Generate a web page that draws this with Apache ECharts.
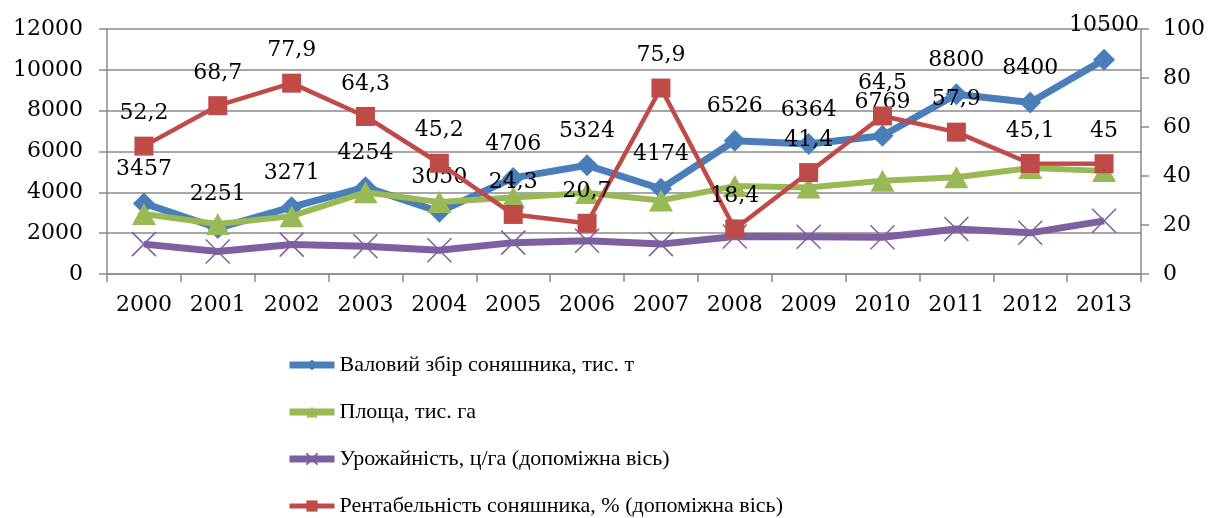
<!DOCTYPE html>
<html>
<head>
<meta charset="utf-8">
<script src="https://cdn.jsdelivr.net/npm/echarts@6/dist/echarts.min.js"></script>
<style>html,body{margin:0;padding:0;background:#fff}#c{width:1210px;height:518px}</style>
</head>
<body>
<div id="c"></div>
<script>
const categories = ['2000','2001','2002','2003','2004','2005','2006','2007','2008','2009','2010','2011','2012','2013'];
const grossHarvest = [3457,2251,3271,4254,3050,4706,5324,4174,6526,6364,6769,8800,8400,10500];
const area = [2943,2452,2834,4001,3521,3743,3964,3604,4306,4232,4572,4739,5194,5051];
const yieldVals = [12.2,9.2,12.0,11.3,9.7,12.8,13.6,12.2,15.3,15.2,15.0,18.4,16.8,21.7];
const profitability = [52.2,68.7,77.9,64.3,45.2,24.3,20.7,75.9,18.4,41.4,64.5,57.9,45.1,45];
const seriesNames = ['Валовий збір соняшника, тис. т','Площа, тис. га','Урожайність, ц/га (допоміжна вісь)','Рентабельність соняшника, % (допоміжна вісь)'];

const numFont = 'DejaVu Serif';
const gridColor = '#8a8a8a';
const colors = ['#4a7ebb','#98b954','#7d60a0','#be4b48'];
const labelStyle = {show:true, position:'top', distance:12, color:'#000', fontFamily:numFont, fontSize:22,
  formatter: p => String(p.value).replace('.', ',')};
const plain = v => String(v);

const chart = echarts.init(document.getElementById('c'), null, {renderer:'canvas'});
chart.setOption({
  animation:false,
  backgroundColor:'#fff',
  grid:{left:107, right:69, top:29, bottom:244, containLabel:false},
  legend:{
    orient:'vertical', left:286, top:354, height:300, padding:0, itemWidth:45, itemHeight:14, itemGap:25,
    textStyle:{fontFamily:"'Liberation Serif',serif", fontSize:22, lineHeight:22, color:'#000'},
    data:seriesNames.map((n,i)=>({name:n, lineStyle:{width:i===3?5:7, color:colors[i]}}))
  },
  xAxis:{
    type:'category', data:categories, boundaryGap:true,
    axisLine:{lineStyle:{color:gridColor, width:1.5}},
    axisTick:{show:true, length:8, lineStyle:{color:gridColor, width:1.5}},
    axisLabel:{color:'#000', fontFamily:numFont, fontSize:22, margin:20},
    splitLine:{show:false}
  },
  yAxis:[
    {type:'value', min:0, max:12000, interval:2000, position:'left',
     axisLine:{show:true, lineStyle:{color:gridColor, width:1.5}},
     axisTick:{show:true, length:8, lineStyle:{color:gridColor, width:1.5}},
     axisLabel:{color:'#000', fontFamily:numFont, fontSize:22, margin:24, formatter:plain},
     splitLine:{show:true, lineStyle:{color:gridColor, width:1.5}}},
    {type:'value', min:0, max:100, interval:20, position:'right',
     axisLine:{show:true, lineStyle:{color:gridColor, width:1.5}},
     axisTick:{show:true, length:8, lineStyle:{color:gridColor, width:1.5}},
     axisLabel:{color:'#000', fontFamily:numFont, fontSize:22, margin:22, formatter:plain},
     splitLine:{show:false}}
  ],
  series:[
    {name:seriesNames[0], type:'line', yAxisIndex:0, data:grossHarvest,
     symbol:'diamond', symbolSize:22,
     lineStyle:{color:colors[0], width:7}, itemStyle:{color:colors[0]},
     label:labelStyle, z:2},
    {name:seriesNames[1], type:'line', yAxisIndex:0, data:area,
     symbol:'triangle', symbolSize:[24,22],
     lineStyle:{color:colors[1], width:6}, itemStyle:{color:colors[1]}, z:3},
    {name:seriesNames[2], type:'line', yAxisIndex:1, data:yieldVals,
     symbol:'path://M0,0L10,10M10,0L0,10', symbolSize:24,
     lineStyle:{color:colors[2], width:7},
     itemStyle:{color:colors[2], borderColor:colors[2], borderWidth:1.5}, z:4},
    {name:seriesNames[3], type:'line', yAxisIndex:1, data:profitability,
     symbol:'rect', symbolSize:19,
     lineStyle:{color:colors[3], width:4.5}, itemStyle:{color:colors[3]},
     label:labelStyle, z:5}
  ]
});
</script>
</body>
</html>
